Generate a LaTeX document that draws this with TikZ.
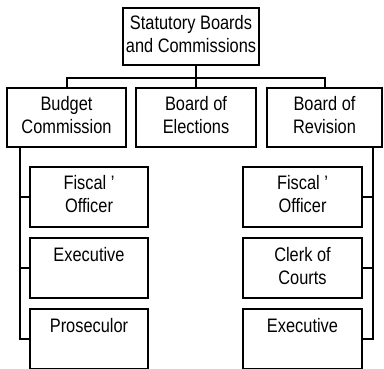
\documentclass[tikz,border=0pt]{standalone}
\usepackage{fontspec}
\setmainfont{Liberation Sans}[FakeStretch=0.84]
\usepackage{tikz}
\usetikzlibrary{positioning}

\begin{document}
\begin{tikzpicture}[x=1pt,y=-1pt,line width=2pt,on grid,
  box/.style={draw,rectangle,inner sep=0pt,minimum height=59pt,align=center,
    font=\fontsize{19.5}{23}\selectfont},
  topbox/.style={box,minimum width=136pt,minimum height=57pt},
  midbox/.style={box,minimum width=119pt},
  subbox/.style={box,minimum width=118pt,minimum height=60pt}]
\useasboundingbox (0,0) rectangle (384,368);
\clip (0,0) rectangle (384,368);

\node[topbox] (b_0) at (191,36.5) {Statutory Boards\strut\\and Commissions\strut};
\node[midbox] (b_1) at (66.5,117.5) {Budget\strut\\Commission\strut};
\node[midbox,minimum width=120pt] (b_2) [right=129.5pt of b_1] {Board of\strut\\Elections\strut};
\node[midbox,minimum width=115pt] (b_3) [right=128.5pt of b_2] {Board of\strut\\Revision\strut};

\node[subbox] (l_1) at (89,196.5) {Fiscal ’\strut\\Officer\strut};
\node[subbox] (l_2) [below=71.5pt of l_1] {Executive\strut\\\strut};
\node[subbox] (l_3) [below=71pt of l_2] {Proseculor\strut\\\strut};

\node[subbox,minimum width=119pt] (r_1) at (302.5,196.5) {Fiscal ’\strut\\Officer\strut};
\node[subbox,minimum width=119pt] (r_2) [below=71.5pt of r_1] {Clerk of\strut\\Courts\strut};
\node[subbox,minimum width=119pt] (r_3) [below=71pt of r_2] {Executive\strut\\\strut};

\coordinate (bus) at (196,78);
\coordinate (spine_l) at (20,147);
\coordinate (spine_r) at (373,147);

\draw (b_0.south -| b_2) -- (b_2.north);
\draw (b_1.north) -- (b_1.north |- bus) -- (b_3.north |- bus) -- (b_3.north);

\draw (spine_l) |- (l_3.west);
\draw (spine_l |- l_1.west) -- (l_1.west);
\draw (spine_l |- l_2.west) -- (l_2.west);

\draw (spine_r) |- (r_3.east);
\draw (spine_r |- r_1.east) -- (r_1.east);
\draw (spine_r |- r_2.east) -- (r_2.east);
\end{tikzpicture}
\end{document}
